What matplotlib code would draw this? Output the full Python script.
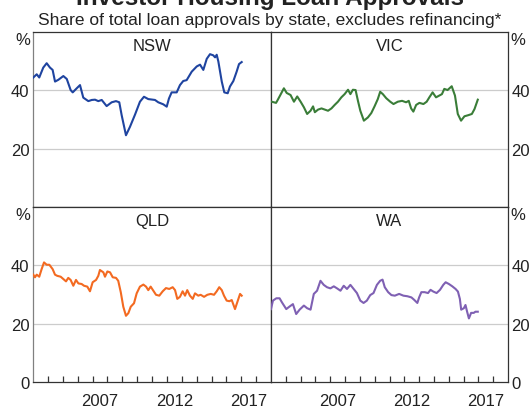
import matplotlib
matplotlib.use("Agg")
import matplotlib.pyplot as plt

plt.rcParams["font.family"] = ["Liberation Sans", "DejaVu Sans"]

C_NSW = "#1f44a0"
C_VIC = "#3a7d38"
C_QLD = "#f36a21"
C_WA = "#7f60b3"
C_GRID = "#cccccc"
C_AXIS = "#333333"
C_TEXT = "#222222"

# ── Data (share of loan approvals, %, decimal years) ─────────────────────────
nsw_t = [2003.02, 2003.25, 2003.42, 2003.69, 2003.92, 2004.14, 2004.32, 2004.48,
         2004.70, 2005.04, 2005.27, 2005.53, 2005.67, 2005.94, 2006.16, 2006.38,
         2006.72, 2006.95, 2007.17, 2007.39, 2007.62, 2007.95, 2008.29, 2008.58,
         2008.80, 2008.96, 2009.25, 2009.52, 2009.86, 2010.19, 2010.46, 2010.75,
         2011.20, 2011.42, 2011.76, 2011.99, 2012.14, 2012.32, 2012.66, 2012.88,
         2013.10, 2013.33, 2013.67, 2014.01, 2014.23, 2014.45, 2014.68, 2014.90,
         2015.12, 2015.24, 2015.35, 2015.46, 2015.69, 2015.86, 2016.09, 2016.24,
         2016.47, 2016.69, 2016.85, 2017.03]
nsw_v = [44.4, 45.5, 44.4, 47.8, 49.3, 47.8, 47.0, 43.0,
         43.6, 44.9, 43.9, 40.1, 39.3, 40.7, 41.8, 37.5,
         36.3, 36.7, 36.8, 36.3, 36.7, 34.6, 35.9, 36.3,
         35.9, 31.5, 24.6, 27.5, 31.7, 36.1, 37.8, 37.0,
         36.7, 35.9, 35.2, 34.4, 37.2, 39.3, 39.3, 41.8,
         43.2, 43.5, 46.4, 48.2, 48.8, 47.0, 50.8, 52.4,
         52.0, 51.3, 52.2, 49.9, 43.0, 39.3, 39.0, 41.3,
         43.2, 46.4, 49.0, 49.7]

vic_t = [2003.05, 2003.34, 2003.42, 2003.61, 2003.87, 2004.06, 2004.32, 2004.55,
         2004.77, 2005.00, 2005.22, 2005.44, 2005.67, 2005.84, 2005.96, 2006.18,
         2006.41, 2006.63, 2006.85, 2007.08, 2007.30, 2007.52, 2007.75, 2007.97,
         2008.20, 2008.36, 2008.53, 2008.71, 2008.87, 2009.03, 2009.27, 2009.54,
         2009.77, 2009.99, 2010.21, 2010.37, 2010.55, 2010.78, 2011.05, 2011.27,
         2011.56, 2011.85, 2012.12, 2012.30, 2012.46, 2012.61, 2012.80, 2013.02,
         2013.29, 2013.51, 2013.69, 2013.91, 2014.14, 2014.36, 2014.54, 2014.70,
         2014.92, 2015.20, 2015.42, 2015.61, 2015.83, 2016.06, 2016.33, 2016.56,
         2016.74, 2016.96]
vic_v = [36.1, 35.7, 36.4, 38.2, 40.7, 39.1, 38.4, 36.1,
         37.9, 36.1, 34.2, 31.9, 33.0, 34.5, 32.5, 33.4,
         33.8, 33.4, 33.0, 33.8, 35.0, 36.1, 37.6, 38.7,
         40.2, 38.7, 40.2, 40.1, 36.4, 33.0, 29.6, 30.7,
         32.2, 34.5, 37.0, 39.5, 38.7, 37.3, 36.1, 35.3,
         36.1, 36.4, 35.9, 36.4, 33.8, 32.7, 35.0, 35.7,
         35.3, 36.1, 37.6, 39.3, 37.6, 38.2, 38.7, 40.5,
         40.1, 41.4, 38.2, 31.9, 29.6, 31.1, 31.5, 31.9,
         33.6, 36.8]

qld_t = [2003.02, 2003.13, 2003.25, 2003.42, 2003.58, 2003.74, 2003.92, 2004.10,
         2004.32, 2004.48, 2004.63, 2004.86, 2005.04, 2005.22, 2005.37, 2005.53,
         2005.71, 2005.89, 2006.05, 2006.27, 2006.43, 2006.65, 2006.83, 2007.01,
         2007.24, 2007.39, 2007.50, 2007.73, 2007.84, 2008.00, 2008.18, 2008.36,
         2008.58, 2008.73, 2008.90, 2009.07, 2009.25, 2009.41, 2009.57, 2009.79,
         2009.97, 2010.19, 2010.42, 2010.60, 2010.75, 2010.91, 2011.09, 2011.27,
         2011.49, 2011.72, 2011.94, 2012.16, 2012.39, 2012.55, 2012.70, 2012.88,
         2013.06, 2013.22, 2013.37, 2013.55, 2013.74, 2013.89, 2014.11, 2014.27,
         2014.50, 2014.72, 2014.95, 2015.17, 2015.35, 2015.52, 2015.69, 2015.84,
         2016.02, 2016.20, 2016.36, 2016.58, 2016.73, 2016.92, 2017.03]
qld_v = [36.8, 35.9, 36.8, 36.1, 38.7, 41.0, 40.2, 40.2,
         38.7, 36.8, 36.4, 36.1, 35.3, 34.5, 35.7, 35.0,
         33.0, 35.0, 33.8, 33.6, 33.0, 32.7, 31.1, 34.2,
         35.0, 36.4, 38.4, 37.6, 36.1, 37.9, 37.6, 35.9,
         35.7, 34.7, 30.8, 25.8, 22.7, 23.6, 25.8, 27.0,
         30.4, 32.7, 33.4, 32.7, 31.5, 32.7, 31.3, 29.9,
         29.6, 31.1, 32.2, 31.9, 32.5, 31.5, 28.5, 29.2,
         31.1, 29.6, 31.5, 29.6, 28.5, 30.4, 29.6, 29.9,
         29.2, 29.9, 30.2, 29.9, 31.1, 32.5, 31.5, 29.6,
         27.9, 27.7, 28.1, 25.0, 27.3, 30.2, 29.6]

wa_t = [2003.00, 2003.13, 2003.36, 2003.58, 2003.74, 2004.03, 2004.26, 2004.48,
        2004.70, 2004.93, 2005.22, 2005.44, 2005.67, 2005.89, 2006.11, 2006.34,
        2006.56, 2006.78, 2007.01, 2007.24, 2007.46, 2007.69, 2007.91, 2008.13,
        2008.36, 2008.58, 2008.80, 2009.03, 2009.25, 2009.47, 2009.70, 2009.92,
        2010.15, 2010.37, 2010.53, 2010.68, 2010.91, 2011.13, 2011.36, 2011.65,
        2011.94, 2012.21, 2012.48, 2012.66, 2012.88, 2013.00, 2013.15, 2013.37,
        2013.60, 2013.77, 2013.96, 2014.18, 2014.41, 2014.63, 2014.79, 2015.01,
        2015.24, 2015.46, 2015.62, 2015.75, 2015.84, 2016.02, 2016.13, 2016.24,
        2016.36, 2016.51, 2016.69, 2016.80, 2016.96]
wa_v = [25.0, 27.9, 28.7, 28.7, 27.3, 25.0, 25.9, 26.7,
        23.3, 24.8, 26.2, 25.3, 24.8, 30.2, 31.3, 34.7,
        33.3, 32.5, 32.1, 32.8, 32.1, 31.3, 33.0, 31.9,
        33.3, 31.9, 30.5, 27.9, 27.1, 27.9, 29.8, 30.5,
        33.3, 34.7, 35.1, 32.5, 30.8, 29.8, 29.6, 30.2,
        29.6, 29.4, 29.0, 28.2, 27.1, 29.0, 30.8, 30.8,
        30.5, 31.6, 31.0, 30.5, 31.6, 33.3, 34.2, 33.6,
        32.8, 31.9, 31.0, 28.5, 24.8, 25.3, 26.4, 24.1,
        21.8, 23.7, 23.7, 24.1, 24.1]

year_ticks = list(range(2004, 2019))
year_labels = ["2007", "2012", "2017"]
y_ticks = [0, 20, 40, 60]

# ── Figure ───────────────────────────────────────────────────────────────────
W, H = 530, 410
fig = plt.figure(figsize=(W / 100, H / 100), dpi=100)
fig.patch.set_facecolor("white")

X0, XM, X1 = 33, 271, 508
Y0, YM, Y1 = 33, 208, 383

PANELS = [
    ("NSW", nsw_t, nsw_v, C_NSW, (X0, Y0, XM, YM), "left", True),
    ("VIC", vic_t, vic_v, C_VIC, (XM, Y0, X1, YM), "right", True),
    ("QLD", qld_t, qld_v, C_QLD, (X0, YM, XM, Y1), "left", False),
    ("WA", wa_t, wa_v, C_WA, (XM, YM, X1, Y1), "right", False),
]

for name, t, v, color, (xa, ya, xb, yb), side, top in PANELS:
    ax = fig.add_axes([xa / W, 1 - yb / H, (xb - xa) / W, (yb - ya) / H])
    ax.set_xlim(2003, 2019)
    ax.set_ylim(0, 60)
    for yy in (20, 40):
        ax.axhline(yy, color=C_GRID, lw=0.9, zorder=1)
    ax.plot(t, v, color=color, lw=1.5, zorder=3, solid_joinstyle="round")

    for s in ax.spines.values():
        s.set_color(C_AXIS)
        s.set_linewidth(0.9)
    if side == "left":
        ax.spines["left"].set_color("#808080")

    # y axis labels
    ax.set_yticks(y_ticks)
    labels = ["0", "20", "40", ""]
    if top:
        labels[0] = ""
    ax.set_yticklabels(labels)
    ax.tick_params(axis="y", length=0, pad=2.5, labelsize=12, colors=C_TEXT,
                   labelleft=(side == "left"), labelright=(side == "right"))
    if side == "left":
        ax.text(-0.012, 1.0, "%", transform=ax.transAxes, ha="right", va="top",
                fontsize=12, color=C_TEXT)
    else:
        ax.text(1.012, 1.0, "%", transform=ax.transAxes, ha="left", va="top",
                fontsize=12, color=C_TEXT)

    # x axis
    if top:
        ax.set_xticks([])
    else:
        ax.set_xticks(year_ticks)
        ax.set_xticklabels([])
        ax.tick_params(axis="x", which="major", direction="in", length=4.5,
                       width=0.9, color=C_AXIS)
        ax.set_xticks([int(y) + 0.5 for y in year_labels], minor=True)
        ax.set_xticklabels(year_labels, minor=True)
        ax.tick_params(axis="x", which="minor", length=0, pad=8,
                       labelsize=12, colors=C_TEXT)

    ax.text(0.5, 0.965, name, transform=ax.transAxes, ha="center", va="top",
            fontsize=12, color=C_TEXT)

# ── Titles ───────────────────────────────────────────────────────────────────
fig.text(270 / W, 1 - 5 / H, "Investor Housing Loan Approvals", ha="center",
         va="baseline", fontsize=17.5, weight="bold", color=C_TEXT)
fig.text(270 / W, 1 - 24.5 / H,
         "Share of total loan approvals by state, excludes refinancing*",
         ha="center", va="baseline", fontsize=12.5, color=C_TEXT)

fig.savefig("out.png", dpi=100, facecolor="white")
